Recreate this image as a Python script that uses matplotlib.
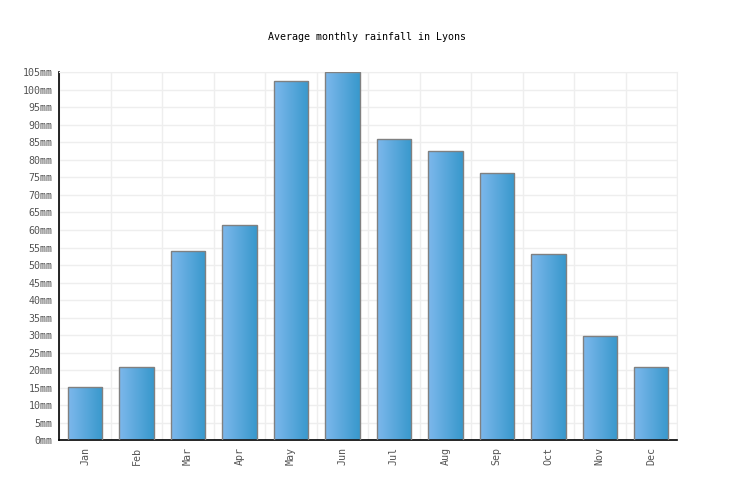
import numpy as np
import matplotlib
matplotlib.use("Agg")
import matplotlib.pyplot as plt
from matplotlib.colors import LinearSegmentedColormap

months = ["Jan", "Feb", "Mar", "Apr", "May", "Jun", "Jul", "Aug", "Sep", "Oct", "Nov", "Dec"]
rainfall = [15.1, 20.8, 53.9, 61.3, 102.4, 105.0, 85.9, 82.5, 76.2, 53.1, 29.8, 20.8]
yticks = list(range(0, 110, 5))
ytick_labels = [f"{v}mm" for v in yticks]

plt.rcParams['font.family'] = ['DejaVu Sans Mono']

fig = plt.figure(figsize=(7.36, 5.0), dpi=100)
ax = fig.add_axes([0.0806, 0.1194, 0.8392, 0.736])

x = np.arange(len(months))
bars = ax.bar(x, rainfall, width=0.67, facecolor="none", edgecolor="#808080", linewidth=1.0, zorder=3)

cmap = LinearSegmentedColormap.from_list("g", ["#7db8ec", "#3898cc"])
grad = np.linspace(0, 1, 256).reshape(1, -1)
for b in bars:
    x0, y0 = b.get_x(), b.get_y()
    w, h = b.get_width(), b.get_height()
    im = ax.imshow(grad, cmap=cmap, extent=[x0, x0 + w, y0, y0 + h],
                   aspect="auto", zorder=2, interpolation="bilinear")
    im.set_clip_path(b)
ax.set_xlim(-0.5, len(months) - 0.5)
ax.set_ylim(0, 105)

ax.set_yticks(yticks)
ax.set_yticklabels(ytick_labels, fontsize=7.2, color="#555555")
ax.set_xticks(x)
ax.set_xticklabels(months, rotation=90, fontsize=7.2, color="#555555")
ax.set_xticks(np.arange(-0.5, len(months), 1), minor=True)
ax.tick_params(axis="both", which="both", length=0, pad=5)
ax.grid(False)
ax.yaxis.grid(True, color="#eeeeee", linewidth=1.0, zorder=0)
ax.xaxis.grid(True, which="minor", color="#eeeeee", linewidth=1.0, zorder=0)
ax.set_axisbelow(True)

for s in ["top", "right"]:
    ax.spines[s].set_color("#eeeeee")
ax.spines["left"].set_color("black")
ax.spines["bottom"].set_color("black")
ax.spines["left"].set_linewidth(1.2)
ax.spines["bottom"].set_linewidth(1.2)

fig.text(0.4986, 0.926, "Average monthly rainfall in Lyons", ha="center", va="center",
         fontsize=7.2, color="black")

fig.savefig("out.png", dpi=100, facecolor="white")
